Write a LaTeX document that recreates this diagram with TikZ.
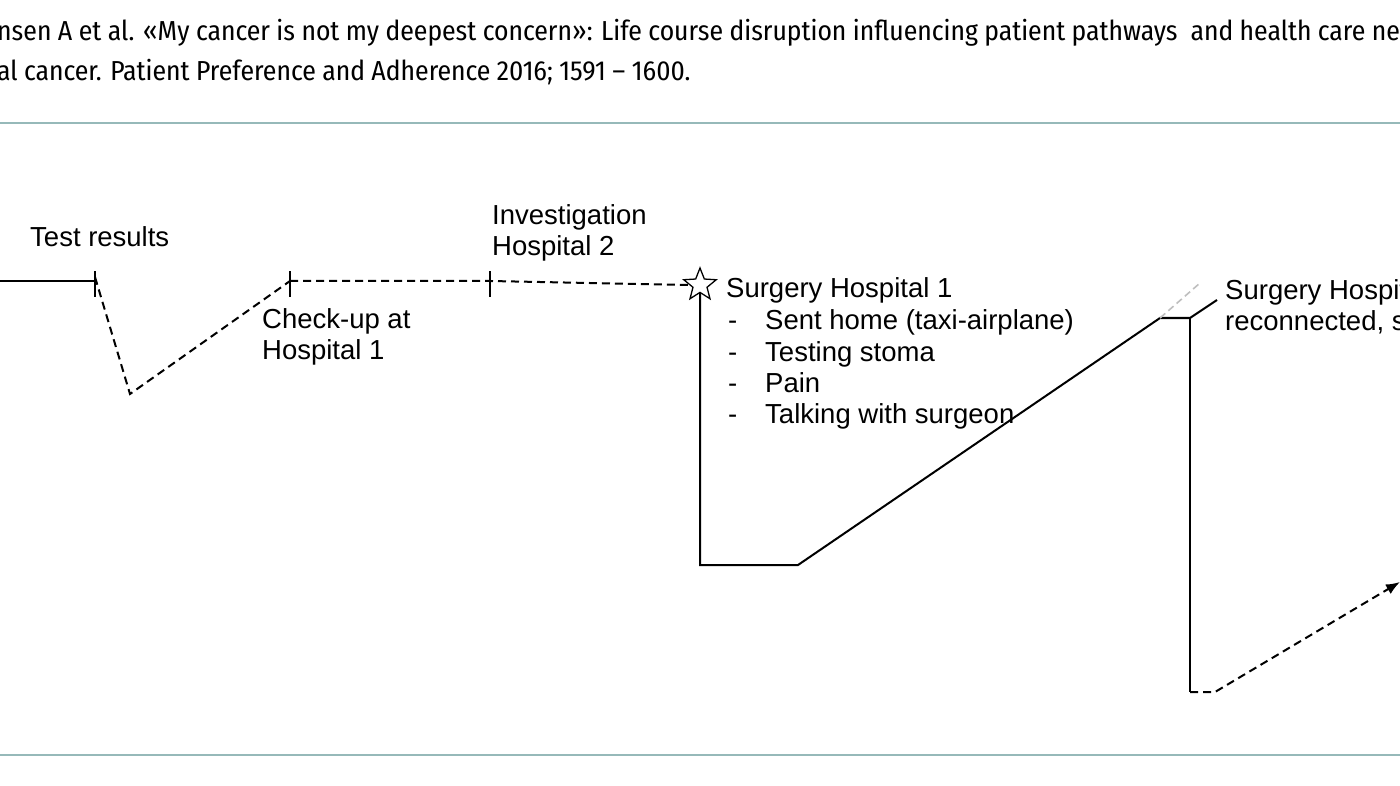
\documentclass[tikz,border=0pt]{standalone}
\usepackage{fontspec}
\setmainfont{Liberation Sans}
\newfontfamily\headfont{Fira Sans Condensed}
\usetikzlibrary{shapes.geometric,arrows.meta}
\begin{document}
\begin{tikzpicture}[x=1pt,y=-1pt,
  lbl/.style={anchor=west,inner sep=0pt,font=\fontsize{27.5}{31}\selectfont,align=left},
  hd/.style={anchor=west,inner sep=0pt,font=\headfont\fontsize{27.5}{30}\selectfont},
  ln/.style={line width=2pt},
  dl/.style={line width=2pt,dash pattern=on 8pt off 5pt},
  tk/.style={line width=1.8pt}]
\useasboundingbox (0,0) rectangle (1400,786);
\clip (0,0) rectangle (1400,786);
\fill[white] (0,0) rectangle (1400,786);
\node[hd] (h1) at (-3,33) {nsen A et al. «My cancer is not my deepest concern»: Life course disruption influencing patient pathways \ and health care ne};
\node[hd] (h2) at (-3,72) {al cancer. Patient Preference and Adherence 2016; 1591 – 1600.};
\draw[color={rgb,255:red,150;green,185;blue,185},line width=1.3pt] (0,123) -- (1400,123);
\draw[color={rgb,255:red,150;green,185;blue,185},line width=1.3pt] (0,755) -- (1400,755);
% points
\coordinate (s) at (0,281);
\coordinate (a) at (95,281);
\coordinate (av) at (130,394);
\coordinate (b) at (290,281);
\coordinate (c) at (490,281);
\node[star,star points=5,star point ratio=2.3,draw,line width=1.3pt,minimum size=34pt,inner sep=0pt] (st) at (700,285) {};
\coordinate (d1) at (700,565);
\coordinate (d2) at (798,565);
\coordinate (e1) at (1160,318);
\coordinate (e2) at (1190,318);
\coordinate (e3) at (1217,300);
\coordinate (g) at (1200,283);
\coordinate (f1) at (1190,692);
\coordinate (f2) at (1215,692);
\coordinate (f3) at (1400,582);
% lines
\draw[ln] (s) -- (a);
\foreach \p in {a,b,c} \draw[tk] ([yshift=-16]\p) -- ([yshift=10]\p);
\draw[dl] ([yshift=4]a) -- (av) -- (b);
\draw[dl] (b) -- (c) -- (st.west);
\draw[ln] (st.south) -- (d1) -- (d2) -- (e1) -- (e2) -- (e3);
\draw[line width=1.6pt,gray!50,dash pattern=on 7pt off 4pt] (e1) -- (g);
\draw[ln] (e2) -- (f1);
\draw[dl,-{Latex[length=14pt,width=11pt]}] (f1) -- (f2) -- (f3);
% labels
\node[lbl] (t1) at (30,237) {Test results};
\node[lbl] (t2) at (262,337) {Check-up at\\Hospital 1};
\node[lbl] (t3) at (492,233) {Investigation\\Hospital 2};
\node[lbl] (t4) at (726,290) {Surgery Hospital 1};
\foreach \y/\t [count=\i] in {320/Sent home (taxi-airplane),351/Testing stoma,382/Pain,413/Talking with surgeon}{
  \node[lbl,anchor=base west] (dash\i) at (728,\y+10) {-};
  \node[lbl,anchor=base west] (it\i) at (765,\y+10) {\t};
}
\node[lbl] (t5) at (1225,307) {Surgery Hospital\\reconnected, stoma};
\end{tikzpicture}
\end{document}
